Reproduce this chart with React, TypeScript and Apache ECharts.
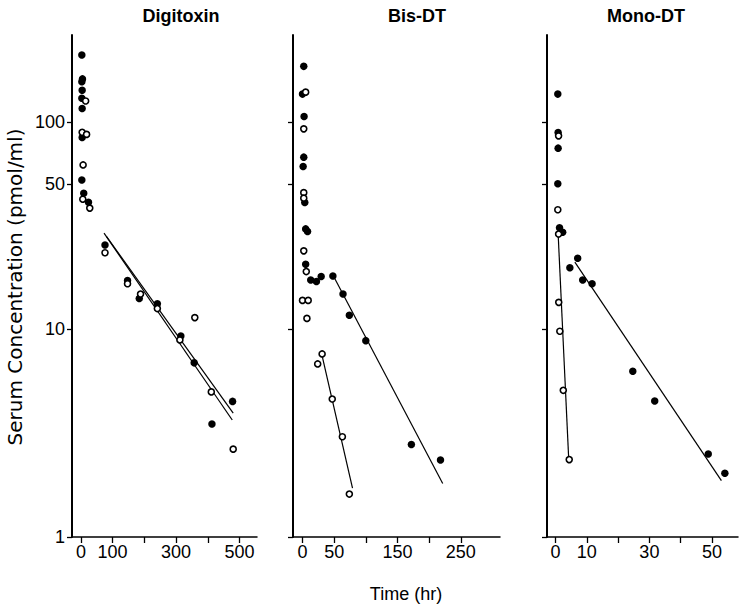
import React, { useEffect, useRef } from "react";
import * as echarts from "echarts";

// ---- text ----
const panelTitles = ["Digitoxin", "Bis-DT", "Mono-DT"];
const yAxisTitle = "Serum Concentration (pmol/ml)";
const xAxisTitle = "Time (hr)";

// ---- ticks ----
const yTickValues = [1, 10, 50, 100];
const yLabelValues = [1, 10, 50, 100];
const digTickValues = [0, 100, 200, 300, 400, 500];
const digLabelValues = [0, 100, 300, 500];
const bisTickValues = [0, 50, 100, 150, 200, 250];
const bisLabelValues = [0, 50, 150, 250];
const monoTickValues = [0, 10, 20, 30, 40, 50];
const monoLabelValues = [0, 10, 30, 50];

// ---- Digitoxin [time hr, pmol/ml] ----
const digFilled = [
  [3, 210], [5, 161], [3, 156], [4, 142], [3, 130], [4, 116], [4, 84], [3, 52.5], [9, 45.3], [24, 41],
  [76, 25.5], [147, 17.2], [184, 14.1], [241, 13.3], [315, 9.3], [357, 6.9], [413, 3.5], [478, 4.5],
];
const digOpen = [
  [15, 126], [4, 89], [18, 87], [7, 62], [6, 42.4], [28, 38.4],
  [76, 23.4], [147, 16.6], [188, 14.8], [241, 12.6], [312, 8.9], [359, 11.4], [411, 5.0], [480, 2.65],
];
const digLineA = [[73, 29.1], [477, 3.66]];
const digLineB = [[81, 28], [480, 3.95]];

// ---- Bis-DT ----
const bisFilled = [
  [2, 185], [0, 136], [2.5, 106], [2, 67.6], [1, 60.9], [3.6, 40.9], [5, 30.5], [8, 29.6], [5, 20.6],
  [13, 17.3], [22, 17.0], [29.5, 18.0], [48, 18.1], [64, 14.8], [74, 11.7], [100, 8.83], [172, 2.79], [218, 2.35],
];
const bisOpen = [
  [5, 139], [2, 92.5], [2, 45.6], [2, 42.9], [2, 23.9], [6, 19], [0, 13.8], [9, 13.8], [7, 11.3],
  [24, 6.82], [31, 7.62], [47, 4.62], [63, 3.04], [74, 1.61],
];
const bisLineFilled = [[48, 18.3], [221.5, 1.81]];
const bisLineOpen = [[31, 7.45], [79, 1.72]];

// ---- Mono-DT ----
const monoFilled = [
  [0.75, 136], [0.85, 88.8], [0.85, 74.7], [0.75, 50.3], [1.3, 30.9], [2.3, 29.4], [4.6, 19.8],
  [7.1, 22.0], [8.7, 17.3], [11.7, 16.6], [24.7, 6.29], [31.7, 4.52], [48.8, 2.51], [54.1, 2.03],
];
const monoOpen = [
  [1, 85.6], [0.75, 37.7], [1, 28.8], [1.05, 13.5], [1.4, 9.8], [2.5, 5.09], [4.4, 2.36],
];
const monoLineOpen = [[0.85, 29], [4.25, 2.35]];
const monoLineFilled = [[6.2, 21.1], [53, 1.87]];

const FONT = "'Liberation Sans', Arial, Helvetica, sans-serif";

export default function App() {
  const ref = useRef<HTMLDivElement>(null);

  useEffect(() => {
    if (!ref.current) return;
    const chart = echarts.init(ref.current, undefined, { renderer: "svg" });

    const grids = [
      { left: 72, top: 35, width: 185, height: 502 },
      { left: 293, top: 35, width: 207, height: 502 },
      { left: 547, top: 35, width: 191, height: 502 },
    ].map((g) => ({ ...g, containLabel: false, outerBoundsMode: "none" }));

    const xRanges = [
      [-28, 555],
      [-15, 312],
      [-2.7, 58.3],
    ];
    const xTicks = [digTickValues, bisTickValues, monoTickValues];
    const xLabels = [digLabelValues, bisLabelValues, monoLabelValues];

    const xAxes = [0, 1, 2].map((i) => ({
      type: "value",
      gridIndex: i,
      min: xRanges[i][0],
      max: xRanges[i][1],
      splitLine: { show: false },
      axisLine: { show: true, onZero: false, lineStyle: { color: "#000", width: 1.5 } },
      axisTick: { show: true, length: 6, inside: false, customValues: xTicks[i], lineStyle: { color: "#000", width: 1.3 } },
      axisLabel: {
        show: true,
        customValues: xLabels[i],
        color: "#000",
        fontSize: 18,
        fontFamily: FONT,
        margin: 6,
        showMinLabel: true,
        showMaxLabel: true,
        hideOverlap: false,
      },
    }));

    const yAxes = [0, 1, 2].map((i) => ({
      type: "log",
      logBase: 10,
      gridIndex: i,
      min: 1,
      max: 262,
      splitLine: { show: false },
      minorTick: { show: false },
      axisLine: { show: true, onZero: false, lineStyle: { color: "#000", width: 2 } },
      axisTick: { show: true, length: 5, inside: false, customValues: yTickValues, lineStyle: { color: "#000", width: 1.3 } },
      axisLabel: {
        show: i === 0,
        customValues: yLabelValues,
        color: "#000",
        fontSize: 18,
        fontFamily: FONT,
        margin: 7,
        showMinLabel: true,
        hideOverlap: false,
      },
    }));

    const lineSeries = (data: number[][], i: number) => ({
      type: "line",
      xAxisIndex: i,
      yAxisIndex: i,
      data,
      symbol: "none",
      silent: true,
      z: 1,
      lineStyle: { color: "#000", width: 1.2 },
    });
    const filledSeries = (data: number[][], i: number) => ({
      type: "scatter",
      xAxisIndex: i,
      yAxisIndex: i,
      data,
      symbol: "circle",
      symbolSize: 7.5,
      z: 3,
      itemStyle: { color: "#000", opacity: 1 },
    });
    const openSeries = (data: number[][], i: number) => ({
      type: "scatter",
      xAxisIndex: i,
      yAxisIndex: i,
      data,
      symbol: "circle",
      symbolSize: 6,
      z: 4,
      itemStyle: { color: "#fff", borderColor: "#000", borderWidth: 1.6, opacity: 1 },
    });

    const titleCenters = [181, 417, 646];

    chart.setOption({
      animation: false,
      backgroundColor: "#fff",
      grid: grids,
      xAxis: xAxes,
      yAxis: yAxes,
      series: [
        lineSeries(digLineA, 0),
        lineSeries(digLineB, 0),
        filledSeries(digFilled, 0),
        openSeries(digOpen, 0),
        lineSeries(bisLineFilled, 1),
        lineSeries(bisLineOpen, 1),
        filledSeries(bisFilled, 1),
        openSeries(bisOpen, 1),
        lineSeries(monoLineOpen, 2),
        lineSeries(monoLineFilled, 2),
        filledSeries(monoFilled, 2),
        openSeries(monoOpen, 2),
      ],
      graphic: [
        ...panelTitles.map((t, i) => ({
          type: "text",
          x: titleCenters[i],
          y: 16,
          style: {
            text: t,
            fill: "#000",
            font: `bold 18px ${FONT}`,
            textAlign: "center",
            textVerticalAlign: "middle",
          },
        })),
        {
          type: "text",
          x: 15,
          y: 287,
          rotation: Math.PI / 2,
          style: {
            text: yAxisTitle,
            fill: "#000",
            font: `20px 'DejaVu Sans', ${FONT}`,
            textAlign: "center",
            textVerticalAlign: "middle",
          },
        },
        {
          type: "text",
          x: 406,
          y: 594,
          style: {
            text: xAxisTitle,
            fill: "#000",
            font: `18px ${FONT}`,
            textAlign: "center",
            textVerticalAlign: "middle",
          },
        },
      ],
    });

    return () => chart.dispose();
  }, []);

  return (
    <div
      ref={ref}
      style={{ position: "fixed", left: 0, top: 0, width: 739, height: 608, background: "#fff" }}
    />
  );
}
